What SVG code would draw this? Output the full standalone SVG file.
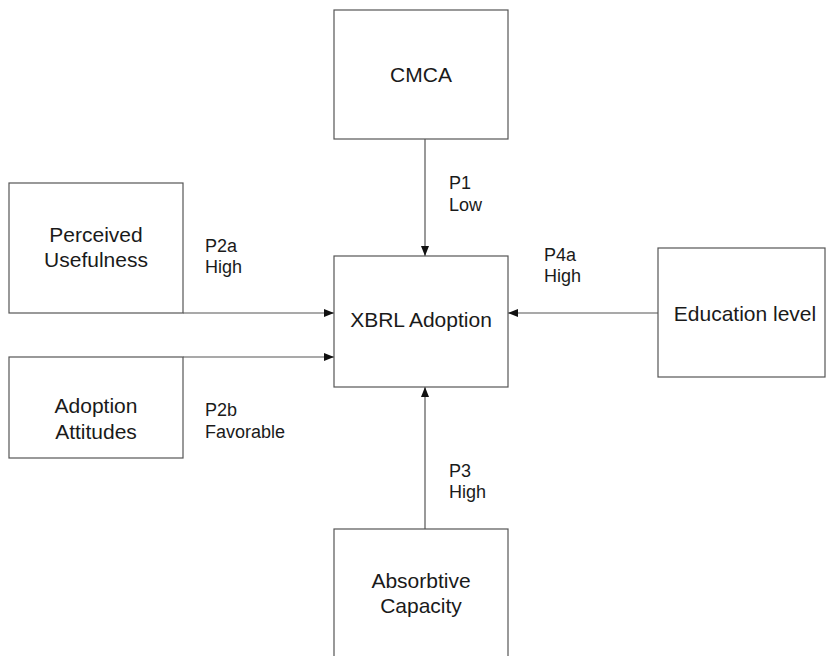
<svg xmlns="http://www.w3.org/2000/svg" width="827" height="656" viewBox="0 0 827 656">
  <style>
    .box { fill: #ffffff; stroke: #555555; stroke-width: 1.2; }
    .node { font-family: "Liberation Sans", Arial, sans-serif; font-size: 21px; fill: #1a1a1a; text-anchor: middle; }
    .lbl { font-family: "Liberation Sans", Arial, sans-serif; font-size: 18px; fill: #1a1a1a; }
    .edge { stroke: #555555; stroke-width: 1.2; fill: none; marker-end: url(#arrow); }
  </style>
  <defs>
    <marker id="arrow" viewBox="0 0 10 8" refX="10" refY="4" markerWidth="10" markerHeight="8" markerUnits="userSpaceOnUse" orient="auto">
      <path d="M0,0 L10,4 L0,8 Z" fill="#111111"/>
    </marker>
  </defs>
  <rect width="827" height="656" fill="#ffffff"/>

  <g id="connectors">
    <line class="edge" x1="425" y1="139" x2="425" y2="256"/>
    <line class="edge" x1="183" y1="313" x2="334" y2="313"/>
    <line class="edge" x1="183" y1="357" x2="334" y2="357"/>
    <line class="edge" x1="658" y1="313" x2="508" y2="313"/>
    <line class="edge" x1="425" y1="529" x2="425" y2="387"/>
    <text class="lbl" x="449" y="189">P1</text>
    <text class="lbl" x="449" y="211">Low</text>
    <text class="lbl" x="205" y="252">P2a</text>
    <text class="lbl" x="205" y="273">High</text>
    <text class="lbl" x="205" y="416">P2b</text>
    <text class="lbl" x="205" y="438">Favorable</text>
    <text class="lbl" x="544" y="261">P4a</text>
    <text class="lbl" x="544" y="282">High</text>
    <text class="lbl" x="449" y="477">P3</text>
    <text class="lbl" x="449" y="498">High</text>
  </g>

  <g id="cmca">
    <rect class="box" x="334" y="10" width="174" height="129"/>
    <text class="node" x="421" y="82">CMCA</text>
  </g>

  <g id="xbrl-adoption">
    <rect class="box" x="334" y="256" width="174" height="131"/>
    <text class="node" x="421" y="327">XBRL Adoption</text>
  </g>

  <g id="perceived-usefulness">
    <rect class="box" x="9" y="183" width="174" height="130"/>
    <text class="node" x="96" y="242">Perceived</text>
    <text class="node" x="96" y="267">Usefulness</text>
  </g>

  <g id="adoption-attitudes">
    <rect class="box" x="9" y="357" width="174" height="101"/>
    <text class="node" x="96" y="413">Adoption</text>
    <text class="node" x="96" y="439">Attitudes</text>
  </g>

  <g id="education-level">
    <rect class="box" x="658" y="248" width="167" height="129"/>
    <text class="node" x="745" y="321">Education level</text>
  </g>

  <g id="absorbtive-capacity">
    <rect class="box" x="334" y="529" width="174" height="140"/>
    <text class="node" x="421" y="588">Absorbtive</text>
    <text class="node" x="421" y="613">Capacity</text>
  </g>
</svg>
